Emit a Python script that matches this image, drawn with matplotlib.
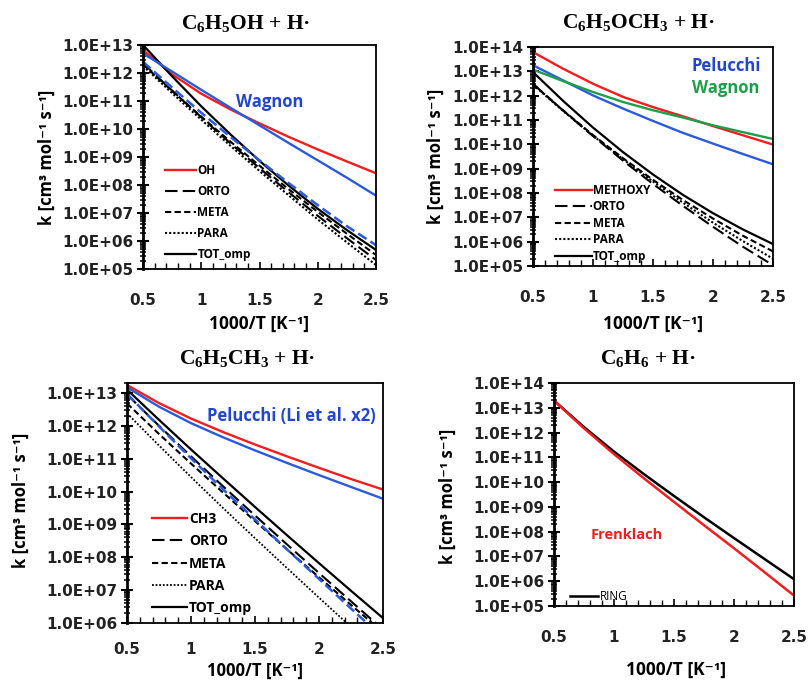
import numpy as np
import matplotlib
matplotlib.use("Agg")
import matplotlib.pyplot as plt
from matplotlib.ticker import MultipleLocator, LogLocator, FuncFormatter, NullFormatter

plt.rcParams['mathtext.default'] = 'regular'

# ---------------- data (log10 k values) ----------------
inv_T = [0.5, 0.75, 1.0, 1.25, 1.5, 1.75, 2.0, 2.25, 2.5]
x_ticks = [0.5, 1.0, 1.5, 2.0, 2.5]
x_tick_labels = ["0.5", "1", "1.5", "2", "2.5"]

# C6H5OH + H
phenol_OH = [12.82, 11.95, 11.26, 10.70, 10.20, 9.72, 9.27, 8.84, 8.42]
phenol_ORTO = [12.35, 11.37, 10.42, 9.49, 8.60, 7.74, 6.90, 6.10, 5.32]
phenol_META = [12.30, 11.36, 10.44, 9.55, 8.69, 7.85, 7.04, 6.26, 5.50]
phenol_PARA = [12.25, 11.28, 10.33, 9.40, 8.50, 7.63, 6.77, 5.95, 5.14]
phenol_TOT = [13.00, 11.88, 10.81, 9.81, 8.86, 7.98, 7.15, 6.39, 5.68]
phenol_wagnon = [12.70, 12.05, 11.40, 10.76, 10.13, 9.50, 8.88, 8.26, 7.62]
phenol_wagnon_tot = [12.40, 11.48, 10.58, 9.72, 8.88, 8.07, 7.28, 6.53, 5.85]

# C6H5OCH3 + H
anisole_METHOXY = [13.79, 13.11, 12.49, 11.95, 11.53, 11.15, 10.75, 10.37, 9.99]
anisole_pelucchi = [13.25, 12.63, 12.01, 11.47, 10.96, 10.47, 10.03, 9.60, 9.18]
anisole_wagnon = [13.07, 12.60, 12.15, 11.74, 11.40, 11.10, 10.78, 10.50, 10.22]
anisole_ORTO = [12.49, 11.39, 10.34, 9.33, 8.37, 7.47, 6.61, 5.79, 5.03]
anisole_META = [12.47, 11.40, 10.38, 9.43, 8.54, 7.71, 6.95, 6.24, 5.60]
anisole_PARA = [12.45, 11.38, 10.36, 9.39, 8.47, 7.60, 6.78, 6.02, 5.30]
anisole_TOT = [12.97, 11.79, 10.69, 9.68, 8.76, 7.92, 7.17, 6.50, 5.90]

# C6H5CH3 + H
toluene_CH3 = [13.24, 12.69, 12.22, 11.81, 11.43, 11.07, 10.72, 10.38, 10.06]
toluene_ORTO = [12.95, 12.00, 11.07, 10.16, 9.27, 8.39, 7.52, 6.66, 5.80]
toluene_META = [12.68, 11.75, 10.85, 9.97, 9.10, 8.24, 7.39, 6.55, 5.72]
toluene_PARA = [12.38, 11.40, 10.44, 9.50, 8.58, 7.67, 6.77, 5.88, 5.00]
toluene_TOT = [13.10, 12.18, 11.28, 10.40, 9.53, 8.67, 7.82, 6.98, 6.15]
toluene_pelucchi = [13.17, 12.58, 12.08, 11.65, 11.25, 10.87, 10.50, 10.14, 9.78]
toluene_pelucchi_tot = [12.97, 11.98, 11.01, 10.07, 9.15, 8.24, 7.34, 6.44, 5.55]

# C6H6 + H
benzene_RING = [13.29, 12.22, 11.23, 10.32, 9.44, 8.58, 7.74, 6.91, 6.08]
benzene_frenklach = [13.29, 12.17, 11.13, 10.15, 9.20, 8.26, 7.33, 6.38, 5.42]

# ---------------- styles ----------------
RED = '#F01E1E'
BLUE = '#2B5BDB'
GREEN = '#1E9E4A'
TXT_BLUE = '#2346D0'
SANS = ['Open Sans', 'DejaVu Sans']
TICKF = ['DejaVu Sans']
SERIF = ['Liberation Serif', 'DejaVu Serif']

ls_orto = (0, (6, 2.5))
ls_meta = (0, (3, 1.6))
ls_para = (0, (1, 1))
ls_blue_dash = (0, (4, 1.8))


def K(v):
    return 10.0 ** np.asarray(v)


def fmt(v, p):
    return "1.0E+%02d" % int(round(np.log10(v)))


def setup(ax, ylim, xpad=17):
    ax.set_yscale('log')
    ax.set_xlim(0.5, 2.5)
    ax.set_ylim(*ylim)
    ax.set_xticks(x_ticks)
    ax.set_xticklabels(x_tick_labels)
    ax.xaxis.set_minor_locator(MultipleLocator(0.1))
    ax.yaxis.set_major_locator(LogLocator(base=10, numticks=30))
    ax.yaxis.set_minor_locator(LogLocator(base=10, subs=np.arange(2, 10), numticks=30))
    ax.yaxis.set_major_formatter(FuncFormatter(fmt))
    ax.yaxis.set_minor_formatter(NullFormatter())
    ax.tick_params(axis='x', which='major', direction='in', length=5, width=1.2, pad=xpad)
    ax.tick_params(axis='x', which='minor', direction='in', length=4, width=1.0)
    ax.tick_params(axis='y', which='major', direction='inout', length=8, width=1.5, pad=3)
    ax.tick_params(axis='y', which='minor', direction='inout', length=5, width=1.1)
    for lab in ax.get_xticklabels() + ax.get_yticklabels():
        lab.set_family(TICKF)
        lab.set_fontweight('bold')
        lab.set_fontsize(11)
        lab.set_color('#222222')
    for s in ax.spines.values():
        s.set_linewidth(1.3)
        s.set_color('black')
    ax.spines['left'].set_linewidth(2.0)
    ax.set_ylabel('k [cm³ mol⁻¹ s⁻¹]', family=SANS, fontweight='bold', fontsize=12)
    ax.set_xlabel('1000/T [K⁻¹]', family=SANS, fontweight='bold', fontsize=12.5)


fig = plt.figure(figsize=(8.09, 6.88), dpi=100)
ax1 = fig.add_axes([0.1768, 0.6090, 0.2880, 0.3256])
ax2 = fig.add_axes([0.6588, 0.6134, 0.2967, 0.3183])
ax3 = fig.add_axes([0.1570, 0.0945, 0.3164, 0.3488])
ax4 = fig.add_axes([0.6848, 0.1192, 0.2967, 0.3241])

x = np.asarray(inv_T)

# ---------------- panel 1 ----------------
ax1.plot(x, K(phenol_OH), color=RED, lw=1.7, label='OH')
ax1.plot(x, K(phenol_ORTO), color='black', lw=1.5, ls=ls_orto, label='ORTO')
ax1.plot(x, K(phenol_META), color='black', lw=1.5, ls=ls_meta, label='META')
ax1.plot(x, K(phenol_PARA), color='black', lw=1.5, ls=ls_para, label='PARA')
ax1.plot(x, K(phenol_TOT), color='black', lw=1.6, label='TOT_omp')
ax1.plot(x, K(phenol_wagnon), color=BLUE, lw=1.7)
ax1.plot(x, K(phenol_wagnon_tot), color=BLUE, lw=1.8, ls=ls_blue_dash)
setup(ax1, (1e5, 1e13))
ax1.text(0.545, 0.746, 'Wagnon', transform=ax1.transAxes, ha='center', va='center',
         color=TXT_BLUE, family=SANS, fontweight='bold', fontsize=12)
ax1.text(0.44, 1.098, 'C$_6$H$_5$OH + H·', transform=ax1.transAxes, ha='center', va='center',
         family=SERIF, fontweight='bold', fontsize=15.5)
ax1.legend(loc='upper left', bbox_to_anchor=(0.094, 0.468), frameon=False, borderpad=0,
           borderaxespad=0, handlelength=2.6, handletextpad=0.15, labelspacing=0.68,
           prop={'family': SANS, 'weight': 'bold', 'size': 8.5})
ax1.yaxis.set_label_coords(-0.373, 0.5)
ax1.xaxis.set_label_coords(0.50, -0.205)

# ---------------- panel 2 ----------------
ax2.plot(x, K(anisole_METHOXY), color=RED, lw=1.7, label='METHOXY')
ax2.plot(x, K(anisole_ORTO), color='black', lw=1.5, ls=ls_orto, label='ORTO')
ax2.plot(x, K(anisole_META), color='black', lw=1.5, ls=ls_meta, label='META')
ax2.plot(x, K(anisole_PARA), color='black', lw=1.5, ls=ls_para, label='PARA')
ax2.plot(x, K(anisole_TOT), color='black', lw=1.6, label='TOT_omp')
ax2.plot(x, K(anisole_pelucchi), color=BLUE, lw=1.7)
ax2.plot(x, K(anisole_wagnon), color=GREEN, lw=1.7)
setup(ax2, (1e5, 1e14))
ax2.text(0.6625, 0.913, 'Pelucchi', transform=ax2.transAxes, ha='left', va='center',
         color=TXT_BLUE, family=SANS, fontweight='bold', fontsize=12)
ax2.text(0.6625, 0.813, 'Wagnon', transform=ax2.transAxes, ha='left', va='center',
         color=GREEN, family=SANS, fontweight='bold', fontsize=12)
ax2.text(0.44, 1.11, 'C$_6$H$_5$OCH$_3$ + H·', transform=ax2.transAxes, ha='center', va='center',
         family=SERIF, fontweight='bold', fontsize=15.5)
ax2.legend(loc='upper left', bbox_to_anchor=(0.092, 0.376), frameon=False, borderpad=0,
           borderaxespad=0, handlelength=3.1, handletextpad=0.1, labelspacing=0.3,
           prop={'family': SANS, 'weight': 'bold', 'size': 8.5})
ax2.yaxis.set_label_coords(-0.367, 0.5)
ax2.xaxis.set_label_coords(0.50, -0.224)

# ---------------- panel 3 ----------------
ax3.plot(x, K(toluene_CH3), color=RED, lw=1.7, label='CH3')
ax3.plot(x, K(toluene_ORTO), color='black', lw=1.5, ls=ls_orto, label='ORTO')
ax3.plot(x, K(toluene_META), color='black', lw=1.5, ls=ls_meta, label='META')
ax3.plot(x, K(toluene_PARA), color='black', lw=1.3, ls=ls_para, label='PARA')
ax3.plot(x, K(toluene_TOT), color='black', lw=1.6, label='TOT_omp')
ax3.plot(x, K(toluene_pelucchi), color=BLUE, lw=1.7)
ax3.plot(x, K(toluene_pelucchi_tot), color=BLUE, lw=1.8, ls=ls_blue_dash)
setup(ax3, (1e6, 2e13), xpad=14)
ax3.text(0.973, 0.8625, 'Pelucchi (Li et al. x2)', transform=ax3.transAxes, ha='right', va='center',
         color=TXT_BLUE, family=SANS, fontweight='bold', fontsize=12)
ax3.text(0.47, 1.104, 'C$_6$H$_5$CH$_3$ + H·', transform=ax3.transAxes, ha='center', va='center',
         family=SERIF, fontweight='bold', fontsize=15.5)
ax3.legend(loc='upper left', bbox_to_anchor=(0.098, 0.463), frameon=False, borderpad=0,
           borderaxespad=0, handlelength=2.5, handletextpad=0.15, labelspacing=0.6,
           prop={'family': SANS, 'weight': 'bold', 'size': 10})
ax3.yaxis.set_label_coords(-0.379, 0.51)
ax3.xaxis.set_label_coords(0.50, -0.163)
ax3.xaxis.label.set_fontsize(12)

# ---------------- panel 4 ----------------
ax4.plot(x, K(benzene_RING), color='black', lw=1.8, label='RING')
ax4.plot(x, K(benzene_frenklach), color=RED, lw=1.8)
setup(ax4, (1e5, 1e14))
ax4.text(0.154, 0.318, 'Frenklach', transform=ax4.transAxes, ha='left', va='center',
         color=RED, family=SANS, fontweight='bold', fontsize=10.5)
ax4.text(0.39, 1.112, 'C$_6$H$_6$ + H·', transform=ax4.transAxes, ha='center', va='center',
         family=SERIF, fontweight='bold', fontsize=15.5)
ax4.legend(loc='upper left', bbox_to_anchor=(0.067, 0.0715), frameon=False, borderpad=0,
           borderaxespad=0, handlelength=2.4, handletextpad=0.1,
           prop={'family': SANS, 'size': 8.5})
ax4.yaxis.set_label_coords(-0.404, 0.49)
ax4.xaxis.set_label_coords(0.51, -0.247)

fig.savefig('out.png', dpi=100)
